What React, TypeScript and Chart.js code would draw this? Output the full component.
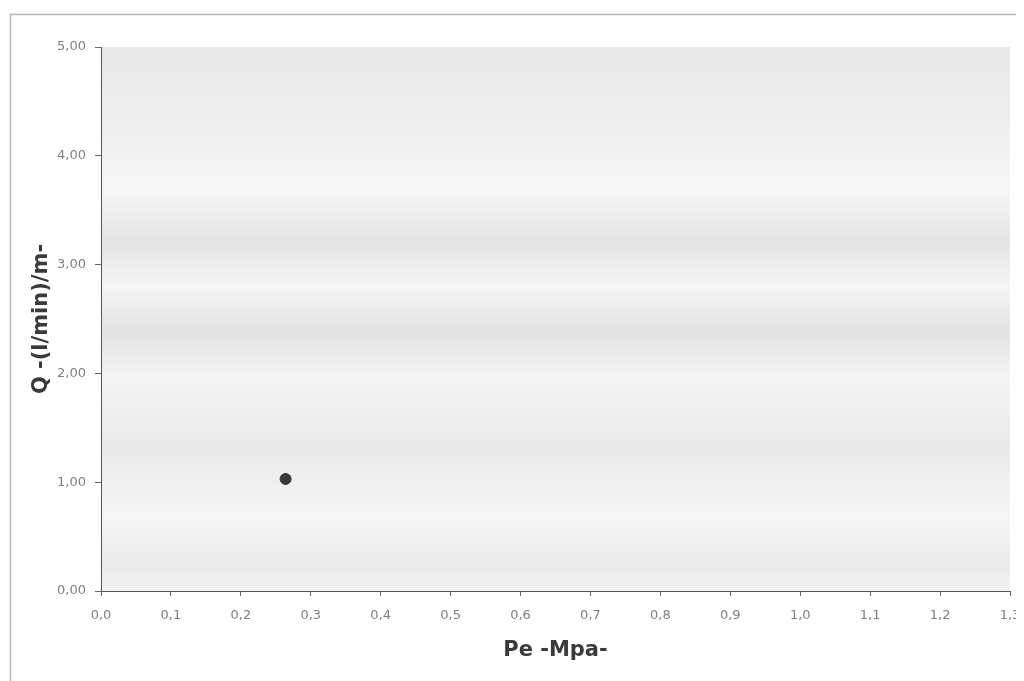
import React, { useEffect, useRef } from "react";
import { Chart, registerables } from "chart.js";

Chart.register(...registerables);

const peValues = [0.264];
const qValues = [1.03];
const xMin = 0;
const xMax = 1.3;
const xStep = 0.1;
const yMin = 0;
const yMax = 5;
const yStep = 1;
const xTitle = "Pe -Mpa-";
const yTitle = "Q -(l/min)/m-";

const bgPlugin = {
  id: "bgPlugin",
  beforeDraw(chart: any) {
    const { ctx, chartArea } = chart;
    const { left, top, right, bottom } = chartArea;
    ctx.save();
    ctx.strokeStyle = "#b8b8b8";
    ctx.lineWidth = 1.5;
    ctx.beginPath();
    ctx.moveTo(2.5, chart.height);
    ctx.lineTo(2.5, 6.5);
    ctx.lineTo(chart.width - 6, 6.5);
    ctx.stroke();
    const g = ctx.createLinearGradient(0, top, 0, bottom);
    const h = bottom - top;
    const stops: [number, string][] = [
      [0, "#e8e8e8"],
      [80, "#eeeeee"],
      [140, "#f7f7f7"],
      [195, "#e4e4e4"],
      [240, "#f5f5f5"],
      [285, "#e2e2e2"],
      [330, "#f4f4f4"],
      [400, "#e9e9e9"],
      [470, "#f6f6f6"],
      [515, "#eaeaea"],
      [544, "#f2f2f2"],
    ];
    stops.forEach(([p, c]) => g.addColorStop(Math.min(1, p / h), c));
    ctx.fillStyle = g;
    ctx.fillRect(left, top, right - left, bottom - top);
    ctx.restore();
  },
};

const tickFont = { family: "DejaVu Sans", size: 13 };
const titleFont = { family: "DejaVu Sans", size: 21, weight: "bold" as const };

export default function App() {
  const ref = useRef<HTMLCanvasElement>(null);
  useEffect(() => {
    if (!ref.current) return;
    const data = peValues.map((x, i) => ({ x, y: qValues[i] }));
    const chart = new Chart(ref.current, {
      type: "scatter",
      data: {
        datasets: [
          {
            data,
            backgroundColor: "#383838",
            borderColor: "#383838",
            pointRadius: 5.5,
          },
        ],
      },
      options: {
        animation: false,
        responsive: false,
        layout: { padding: { left: 0, top: 39, right: 14, bottom: 0 } },
        plugins: { legend: { display: false }, tooltip: { enabled: false } },
        scales: {
          x: {
            type: "linear",
            min: xMin,
            max: xMax,
            ticks: {
              stepSize: xStep,
              color: "#7f7f7f",
              font: tickFont,
              padding: 12,
              maxRotation: 0,
              autoSkip: false,
              callback: (v: any) => Number(v).toFixed(1).replace(".", ","),
            },
            grid: { drawOnChartArea: false, tickLength: 5, color: "#666" },
            border: { display: true, color: "#555", width: 1 },
            title: {
              display: true,
              text: xTitle,
              color: "#3a3a3a",
              font: titleFont,
              padding: { top: 0, bottom: 18 },
            },
            afterFit: (s: any) => {
              s.height = 90;
              s.paddingLeft = 0;
              s.paddingRight = 0;
            },
          },
          y: {
            type: "linear",
            min: yMin,
            max: yMax,
            ticks: {
              stepSize: yStep,
              color: "#7f7f7f",
              font: tickFont,
              padding: 9,
              callback: (v: any) => Number(v).toFixed(2).replace(".", ","),
            },
            grid: { drawOnChartArea: false, tickLength: 6, color: "#666" },
            border: { display: true, color: "#555", width: 1 },
            title: {
              display: true,
              text: yTitle,
              color: "#3a3a3a",
              font: titleFont,
              padding: { top: 21, bottom: 0 },
            },
            afterFit: (s: any) => {
              s.width = 93;
              s.paddingTop = 0;
              s.paddingBottom = 0;
            },
          },
        },
      },
      plugins: [bgPlugin],
    });
    return () => chart.destroy();
  }, []);
  return (
    <div style={{ width: 1016, height: 673, background: "#fff" }}>
      <canvas ref={ref} width={1016} height={673} />
    </div>
  );
}
